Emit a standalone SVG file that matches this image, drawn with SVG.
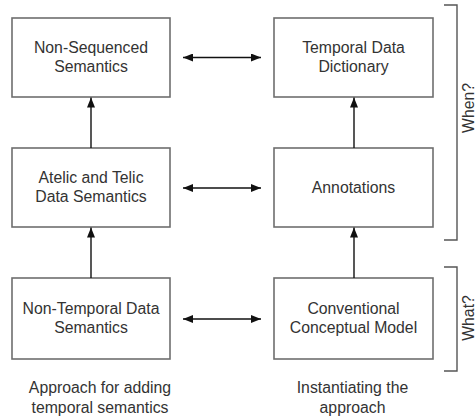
<svg xmlns="http://www.w3.org/2000/svg" width="476" height="419" viewBox="0 0 476 419">
<style>
.box{fill:#fff;stroke:#6e6e6e;stroke-width:1.6}
.t{font-family:"Liberation Sans",Arial,sans-serif;font-size:15.8px;fill:#333;text-anchor:middle}
.c{stroke:#111;stroke-width:1.4;fill:none}
.br{stroke:#555;stroke-width:1.4;fill:none}
</style>
<defs>
<marker id="ah" viewBox="0 0 10 8" refX="10" refY="4" markerWidth="10" markerHeight="8" markerUnits="userSpaceOnUse" orient="auto-start-reverse">
<path d="M0,0 L10,4 L0,8 Z" fill="#111"/>
</marker>
</defs>
<rect width="476" height="419" fill="#fff"/>
<g id="n1"><rect class="box" x="12" y="18" width="158" height="79"/><text class="t" x="91" y="52.5">Non-Sequenced</text><text class="t" x="91" y="71.5">Semantics</text></g>
<g id="n2"><rect class="box" x="274" y="18" width="159" height="79"/><text class="t" x="353.5" y="52.5">Temporal Data</text><text class="t" x="353.5" y="71.5">Dictionary</text></g>
<g id="n3"><rect class="box" x="12" y="148" width="158" height="79"/><text class="t" x="91" y="182.5">Atelic and Telic</text><text class="t" x="91" y="201.5">Data Semantics</text></g>
<g id="n4"><rect class="box" x="274" y="148" width="159" height="79"/><text class="t" x="353.5" y="193">Annotations</text></g>
<g id="n5"><rect class="box" x="12" y="278" width="158" height="81"/><text class="t" x="91" y="313.5">Non-Temporal Data</text><text class="t" x="91" y="332.5">Semantics</text></g>
<g id="n6"><rect class="box" x="274" y="278" width="159" height="81"/><text class="t" x="353.5" y="313.5">Conventional</text><text class="t" x="353.5" y="332.5">Conceptual Model</text></g>
<g id="connectors">
<line class="c" x1="183" y1="57.5" x2="261" y2="57.5" marker-start="url(#ah)" marker-end="url(#ah)"/>
<line class="c" x1="183" y1="188" x2="261" y2="188" marker-start="url(#ah)" marker-end="url(#ah)"/>
<line class="c" x1="183" y1="319" x2="261" y2="319" marker-start="url(#ah)" marker-end="url(#ah)"/>
<line class="c" x1="91" y1="148" x2="91" y2="97.5" marker-end="url(#ah)"/>
<line class="c" x1="91" y1="278" x2="91" y2="227.5" marker-end="url(#ah)"/>
<line class="c" x1="354" y1="148" x2="354" y2="97.5" marker-end="url(#ah)"/>
<line class="c" x1="354" y1="278" x2="354" y2="227.5" marker-end="url(#ah)"/>
</g>
<g id="brackets">
<path class="br" d="M444,5 H457 V240 H444"/>
<path class="br" d="M444,267 H457 V371 H444"/>
<text class="t" transform="translate(474,108) rotate(-90)">When?</text>
<text class="t" transform="translate(474,318) rotate(-90)">What?</text>
</g>
<g id="labels">
<text class="t" x="100" y="393">Approach for adding</text>
<text class="t" x="100" y="413">temporal semantics</text>
<text class="t" x="352.5" y="393">Instantiating the</text>
<text class="t" x="352.5" y="413">approach</text>
</g>
</svg>
